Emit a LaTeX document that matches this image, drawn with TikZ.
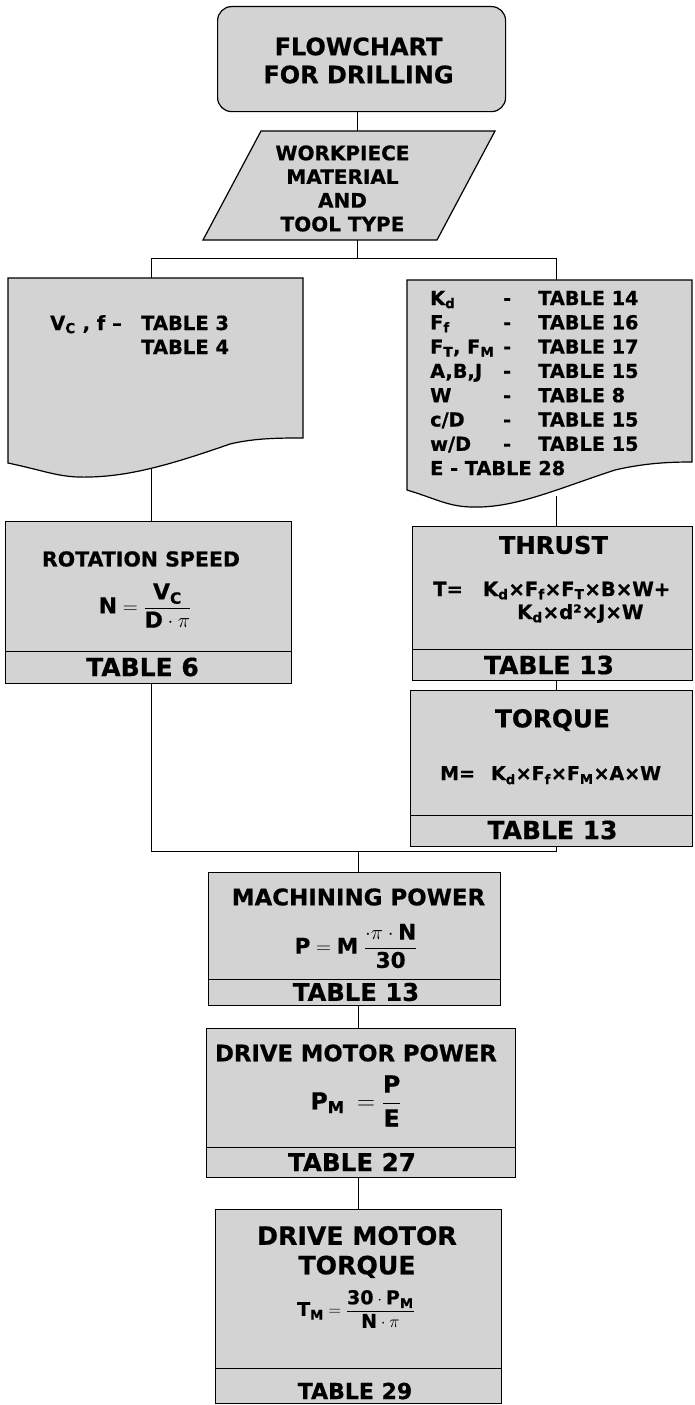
\documentclass[tikz,border=0pt]{standalone}
\usepackage{amsmath}
\usepackage{fontspec}
\setmainfont{DejaVu Sans}[BoldFeatures={FakeBold=0.6}]
\usetikzlibrary{calc}
\definecolor{boxgray}{RGB}{211,211,211}
\newcommand{\fsz}[2]{\fontsize{#1}{#2}\selectfont\bfseries}
\newcommand{\rrow}[3]{\makebox[73pt][l]{#1}\makebox[35pt][l]{#2}#3}
\begin{document}
\begin{tikzpicture}[x=1pt,y=-1pt,
 box/.style={draw=black,fill=boxgray,line width=1.2pt,inner sep=0pt,anchor=north west},
 shp/.style={draw=black,fill=boxgray,line width=1.2pt},
 conn/.style={draw=black,line width=0.9pt},
 txt/.style={inner sep=0pt,text=black}]
\fill[white] (0,0) rectangle (694,1405);
\useasboundingbox (0,0) rectangle (694,1405);

% ---------- boxes ----------
\node[box,rounded corners=14pt,minimum width=288pt,minimum height=105pt] (title) at (217,6) {};
\path[shp] (261,131) -- (495,131) -- (437,240) -- (203,240) -- cycle;
\path[shp] (8,278) -- (303,278) -- (303,438) .. controls (280,438) and (255,438) .. (230,444)
  .. controls (170,465) and (130,476) .. (90,477) .. controls (60,478) and (50,472) .. (8,463) -- cycle;
\path[shp] (407,280) -- (692,280) -- (692,462) .. controls (670,462) and (645,463) .. (615,470)
  .. controls (560,488) and (520,506) .. (480,507) .. controls (450,508) and (440,500) .. (407,490) -- cycle;

\node[box,minimum width=286pt,minimum height=130pt] (rot) at (5,521) {};
\node[box,minimum width=286pt,minimum height=32pt] (rottab) at (5,651) {};
\node[box,minimum width=280pt,minimum height=123pt] (thr) at (412,526) {};
\node[box,minimum width=280pt,minimum height=31pt] (thrtab) at (412,649) {};
\node[box,minimum width=282pt,minimum height=125pt] (tor) at (410,690) {};
\node[box,minimum width=282pt,minimum height=31pt] (tortab) at (410,815) {};
\node[box,minimum width=292pt,minimum height=107pt] (mach) at (208,872) {};
\node[box,minimum width=292pt,minimum height=26pt] (machtab) at (208,979) {};
\node[box,minimum width=309pt,minimum height=119pt] (dmp) at (206,1028) {};
\node[box,minimum width=309pt,minimum height=30pt] (dmptab) at (206,1147) {};
\node[box,minimum width=286pt,minimum height=159pt] (dmt) at (215,1209) {};
\node[box,minimum width=286pt,minimum height=35pt] (dmttab) at (215,1368) {};

% ---------- connectors ----------
\coordinate (wptop) at (357,131);
\coordinate (wpbot) at (357,240);
\coordinate (split) at (357,258);
\coordinate (ldoctop) at (151,278);
\coordinate (rdoctop) at (556,280);
\coordinate (ldocbot) at (151,468);
\coordinate (rdocbot) at (556,496);
\coordinate (merge) at (358,851);
\draw[conn] (wptop |- title.south) -- (wptop);
\draw[conn] (wpbot) -- (split);
\draw[conn] (split) -| (ldoctop);
\draw[conn] (split) -| (rdoctop);
\draw[conn] (ldocbot) -- (ldocbot |- rot.north);
\draw[conn] (rdocbot) -- (rdocbot |- thr.north);
\draw[conn] (rdocbot |- thrtab.south) -- (rdocbot |- tor.north);
\draw[conn] (ldocbot |- rottab.south) |- (merge);
\draw[conn] (rdocbot |- tortab.south) |- (merge);
\draw[conn] (merge) -- (merge |- mach.north);
\draw[conn] (merge |- machtab.south) -- (merge |- dmp.north);
\draw[conn] (merge |- dmptab.south) -- (merge |- dmt.north);

% ---------- texts ----------
\node[txt,font={\fsz{24}{28}},align=center] (titletxt) at (358.5,60.5) {FLOWCHART\\FOR DRILLING};
\node[txt,font={\fsz{20}{23.7}},align=center] (wptxt) at (342.5,188.5) {WORKPIECE\\MATERIAL\\AND\\TOOL TYPE};

\node[txt,font={\fsz{19.5}{24}},anchor=base west] (l1) at (50,330) {\makebox[91pt][l]{V\textsubscript{C} , f --}TABLE 3};
\node[txt,font={\fsz{19.5}{24}},anchor=base west] (l2) at (141,354) {TABLE 4};

\node[txt,font={\fsz{19.3}{24}},anchor=base west] (r1) at (430,305) {\rrow{K\textsubscript{d}}{-}{TABLE 14}};
\node[txt,font={\fsz{19.3}{24}},anchor=base west] (r2) at (430,329.3) {\rrow{F\textsubscript{f}}{-}{TABLE 16}};
\node[txt,font={\fsz{19.3}{24}},anchor=base west] (r3) at (430,353.6) {\rrow{F\textsubscript{T}, F\textsubscript{M}}{-}{TABLE 17}};
\node[txt,font={\fsz{19.3}{24}},anchor=base west] (r4) at (430,377.9) {\rrow{A,B,J}{-}{TABLE 15}};
\node[txt,font={\fsz{19.3}{24}},anchor=base west] (r5) at (430,402.2) {\rrow{W}{-}{TABLE 8}};
\node[txt,font={\fsz{19.3}{24}},anchor=base west] (r6) at (430,426.5) {\rrow{c/D}{-}{TABLE 15}};
\node[txt,font={\fsz{19.3}{24}},anchor=base west] (r7) at (430,450.8) {\rrow{w/D}{-}{TABLE 15}};
\node[txt,font={\fsz{19.3}{24}},anchor=base west] (r8) at (430,475.1) {E - TABLE 28};

\node[txt,font={\fsz{20.5}{24}}] (rottxt) at (141,559) {ROTATION SPEED};
\node[txt,font={\fsz{22}{26}}] (rotf) at (145,605.5) {$\textbf{N}=\dfrac{\textbf{V}_{\textbf{C}}}{\textbf{D}\cdot\pi}$};
\node[txt,font={\fsz{25}{28}}] (rottabtxt) at (142.5,667) {TABLE 6};

\node[txt,font={\fsz{24.2}{28}}] (thrtxt) at (553.5,545) {THRUST};
\node[txt,font={\fsz{19.6}{22}},anchor=base west] (thrf1) at (433,596) {T=\hspace{20pt}K\textsubscript{d}×F\textsubscript{f}×F\textsubscript{T}×B×W+};
\node[txt,font={\fsz{19.6}{22}},anchor=base west] (thrf2) at (517,619) {K\textsubscript{d}×d²×J×W};
\node[txt,font={\fsz{25}{28}}] (thrtabtxt) at (549,665) {TABLE 13};

\node[txt,font={\fsz{24.7}{28}}] (tortxt) at (552.5,720) {TORQUE};
\node[txt,font={\fsz{19}{22}},anchor=base west] (torf) at (440,780) {M=\hspace{16pt}K\textsubscript{d}×F\textsubscript{f}×F\textsubscript{M}×A×W};
\node[txt,font={\fsz{25}{28}}] (tortabtxt) at (552.5,830) {TABLE 13};

\node[txt,font={\fsz{22.9}{26}}] (machtxt) at (358.5,897) {MACHINING POWER};
\node[txt,font={\fsz{21.5}{25}}] (machf) at (356,946) {$\textbf{P}=\textbf{M}\mkern5mu\dfrac{\cdot\pi\cdot\textbf{N}}{\textbf{30}}$};
\node[txt,font={\fsz{24.3}{28}}] (machtabtxt) at (356,992) {TABLE 13};

\node[txt,font={\fsz{22.7}{26}}] (dmptxt) at (356,1053) {DRIVE MOTOR POWER};
\node[txt,font={\fsz{23.5}{27}}] (dmpf) at (356,1101) {$\textbf{P}_{\textbf{M}}\mkern4mu=\dfrac{\textbf{P}}{\textbf{E}}$};
\node[txt,font={\fsz{24.6}{28}}] (dmptabtxt) at (352,1162) {TABLE 27};

\node[txt,font={\fsz{25.2}{29.5}},align=center] (dmttxt) at (357,1252) {DRIVE MOTOR\\TORQUE};
\node[txt,font={\fsz{19}{22}}] (dmtf) at (356,1309) {$\textbf{T}_{\textbf{M}}=\dfrac{\textbf{30}\cdot\textbf{P}_{\textbf{M}}}{\textbf{N}\cdot\pi}$};
\node[txt,font={\fsz{22}{26}}] (dmttabtxt) at (355,1391) {TABLE 29};
\end{tikzpicture}
\end{document}
